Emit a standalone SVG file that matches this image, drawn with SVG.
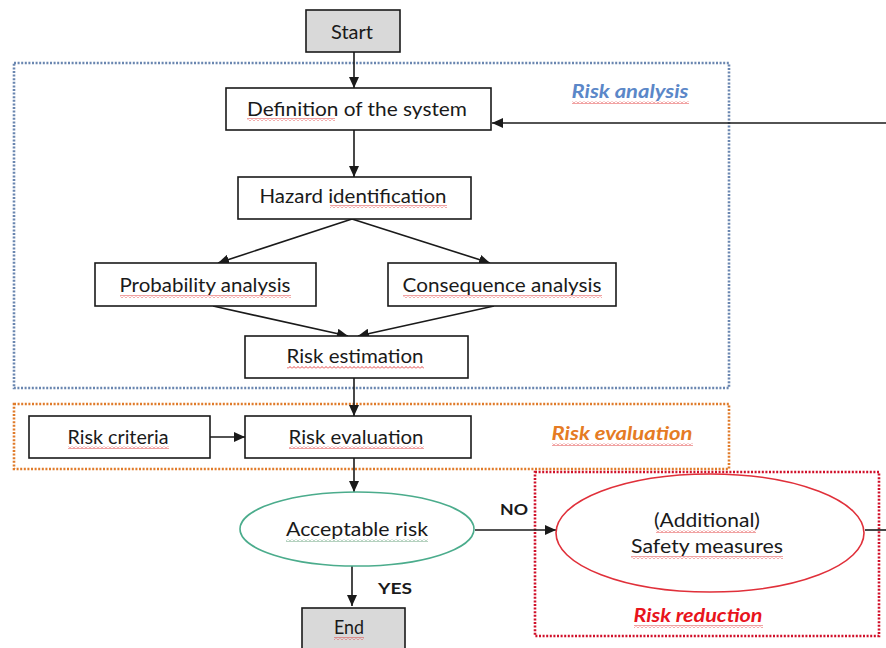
<svg xmlns="http://www.w3.org/2000/svg" width="886" height="648" viewBox="0 0 886 648">
<style>
.box{fill:#fff;stroke:#1a1a1a;stroke-width:1.6}
.term{fill:#d9d9d9;stroke:#1a1a1a;stroke-width:1.6}
.t{font-family:Lato,"Liberation Sans",sans-serif;font-size:18.5px;fill:#1a1a1a;text-anchor:middle}
.lbl{font-family:Lato,"Liberation Sans",sans-serif;font-size:18px;font-weight:bold;font-style:italic;text-anchor:middle}
.yn{font-family:Lato,"Liberation Sans",sans-serif;font-size:16px;font-weight:bold;fill:#1a1a1a;text-anchor:middle}
.edge{stroke:#1a1a1a;stroke-width:1.6;fill:none}
.grp{fill:none;stroke-width:2.6;stroke-dasharray:2 1.6}
.sq{fill:url(#wave)}
.sqg{fill:url(#waveg)}
</style>
<defs>
<marker id="ah" viewBox="0 0 10 10" refX="10" refY="5" markerWidth="11" markerHeight="10" markerUnits="userSpaceOnUse" orient="auto" preserveAspectRatio="none">
<path d="M0,0 L10,5 L0,10 z" fill="#1a1a1a"/>
</marker>
<pattern id="wave" width="4" height="3" patternUnits="userSpaceOnUse">
<path d="M0,2.5 L2,0.5 L4,2.5" fill="none" stroke="#e03030" stroke-width="0.9"/>
</pattern>
<pattern id="waveg" width="4" height="3" patternUnits="userSpaceOnUse">
<path d="M0,2.5 L2,0.5 L4,2.5" fill="none" stroke="#5a9a70" stroke-width="0.9"/>
</pattern>
</defs>

<g id="groups">
<rect x="14" y="63" width="715" height="325" class="grp" stroke="#6a86b0"/>
<rect x="14" y="404" width="715" height="65" class="grp" stroke="#e07b2a"/>
<rect x="535" y="472" width="344" height="164" class="grp" stroke="#d0102a"/>
<text x="630" y="98" class="lbl" fill="#5b87c8" textLength="117" lengthAdjust="spacingAndGlyphs">Risk analysis</text>
<rect x="572" y="101" width="117" height="3" class="sq"/>
<text x="622" y="440" class="lbl" fill="#e57b24" textLength="141" lengthAdjust="spacingAndGlyphs">Risk evaluation</text>
<rect x="552" y="443" width="141" height="3" class="sq"/>
<text x="698" y="622" class="lbl" fill="#e8141c" textLength="129" lengthAdjust="spacingAndGlyphs">Risk reduction</text>
<rect x="634" y="625" width="129" height="3" class="sq"/>
</g>

<g id="edges">
<path d="M354,52 V88" class="edge" marker-end="url(#ah)"/>
<path d="M354,130 V177" class="edge" marker-end="url(#ah)"/>
<path d="M352,219 L218,263" class="edge" marker-end="url(#ah)"/>
<path d="M352,219 L490,263" class="edge" marker-end="url(#ah)"/>
<path d="M213,306 L348,336" class="edge" marker-end="url(#ah)"/>
<path d="M494,306 L358,336" class="edge" marker-end="url(#ah)"/>
<path d="M354,378 V416" class="edge" marker-end="url(#ah)"/>
<path d="M210,437 H245" class="edge" marker-end="url(#ah)"/>
<path d="M354,458 V492" class="edge" marker-end="url(#ah)"/>
<path d="M352,566 V606" class="edge" marker-end="url(#ah)"/>
<path d="M475,530 H556" class="edge" marker-end="url(#ah)"/>
<path d="M865,530 H886" class="edge"/>
<path d="M886,123 H492" class="edge" marker-end="url(#ah)"/>
<text x="395" y="594" class="yn" textLength="34" lengthAdjust="spacingAndGlyphs">YES</text>
<text x="514" y="515" class="yn" textLength="28" lengthAdjust="spacingAndGlyphs">NO</text>
</g>

<g id="start">
<rect x="306" y="10" width="94" height="42" class="term"/>
<text x="352" y="39" class="t" textLength="42" lengthAdjust="spacingAndGlyphs">Start</text>
</g>

<g id="definition">
<rect x="226" y="88" width="265" height="42" class="box"/>
<text x="357" y="116" class="t" textLength="220" lengthAdjust="spacingAndGlyphs">Definition of the system</text>
<rect x="247" y="118" width="88" height="3" class="sq"/>
</g>

<g id="hazard">
<rect x="238" y="177" width="233" height="42" class="box"/>
<text x="353" y="203" class="t" textLength="187" lengthAdjust="spacingAndGlyphs">Hazard identification</text>
<rect x="330" y="205" width="117" height="3" class="sq"/>
</g>

<g id="probability">
<rect x="95" y="263" width="221" height="43" class="box"/>
<text x="205" y="292" class="t" textLength="171" lengthAdjust="spacingAndGlyphs">Probability analysis</text>
<rect x="120" y="295" width="171" height="3" class="sq"/>
</g>

<g id="consequence">
<rect x="388" y="263" width="228" height="43" class="box"/>
<text x="502" y="292" class="t" textLength="199" lengthAdjust="spacingAndGlyphs">Consequence analysis</text>
<rect x="403" y="295" width="199" height="3" class="sq"/>
</g>

<g id="estimation">
<rect x="245" y="336" width="223" height="42" class="box"/>
<text x="355" y="363" class="t" textLength="137" lengthAdjust="spacingAndGlyphs">Risk estimation</text>
<rect x="287" y="366" width="137" height="3" class="sq"/>
</g>

<g id="criteria">
<rect x="29" y="416" width="181" height="42" class="box"/>
<text x="118" y="444" class="t" textLength="101" lengthAdjust="spacingAndGlyphs">Risk criteria</text>
<rect x="68" y="446" width="101" height="3" class="sq"/>
</g>

<g id="evaluation">
<rect x="245" y="416" width="226" height="42" class="box"/>
<text x="356" y="444" class="t" textLength="135" lengthAdjust="spacingAndGlyphs">Risk evaluation</text>
<rect x="289" y="446" width="135" height="3" class="sq"/>
</g>

<g id="acceptable">
<ellipse cx="357" cy="529" rx="117" ry="37" fill="#fff" stroke="#4bac8c" stroke-width="1.6"/>
<text x="357" y="536" class="t" textLength="142" lengthAdjust="spacingAndGlyphs">Acceptable  risk</text>
<rect x="286" y="539" width="142" height="3" class="sqg"/>
</g>

<g id="safety">
<ellipse cx="710" cy="533" rx="154" ry="59" fill="#fff" stroke="#e0303a" stroke-width="1.6"/>
<text x="707" y="527" class="t" textLength="106" lengthAdjust="spacingAndGlyphs">(Additional)</text>
<rect x="656" y="530" width="100" height="3" class="sq"/>
<text x="707" y="553" class="t" textLength="152" lengthAdjust="spacingAndGlyphs">Safety measures</text>
<rect x="631" y="556" width="152" height="3" class="sq"/>
</g>

<g id="end">
<rect x="302" y="608" width="103" height="44" class="term"/>
<text x="349" y="634" class="t" textLength="30" lengthAdjust="spacingAndGlyphs">End</text>
<rect x="334" y="637" width="30" height="3" class="sq"/>
</g>
</svg>
